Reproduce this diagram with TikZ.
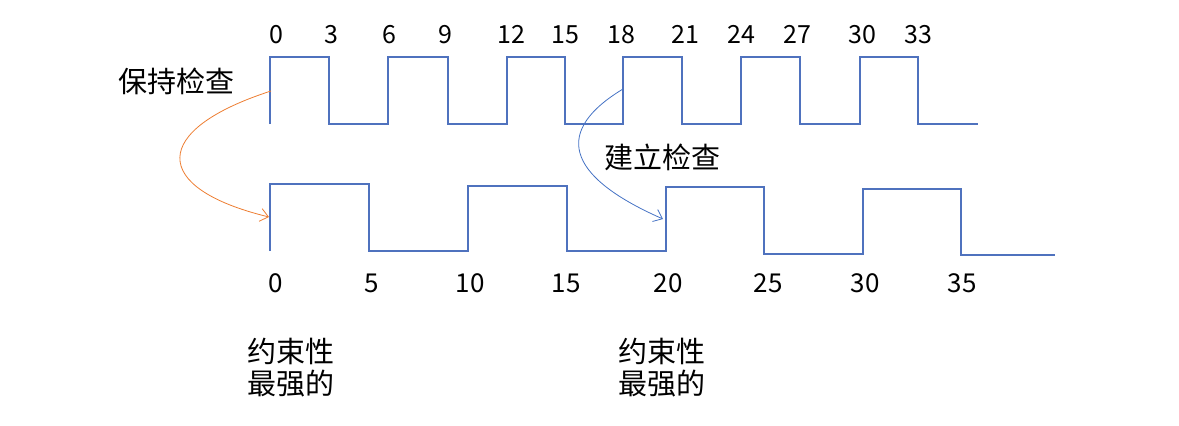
\documentclass[tikz,border=0pt]{standalone}
\usepackage{fontspec}
\setmainfont{Noto Sans CJK SC}
\usetikzlibrary{arrows.meta}
\definecolor{waveblue}{RGB}{79,114,190}
\definecolor{linkblue}{RGB}{68,114,196}
\definecolor{linkorange}{RGB}{237,125,49}

\begin{document}
\begin{tikzpicture}[x=1pt,y=-1pt,>={Straight Barb[length=8pt,width=13pt]},
  every node/.style={inner sep=0pt,outer sep=0pt},
  wave/.style={draw=waveblue,line width=1.1pt},
  toplabel/.style={font=\fontsize{25}{25}\selectfont,anchor=base},
  botlabel/.style={font=\fontsize{26}{26}\selectfont,anchor=base},
  cjklabel/.style={font=\fontsize{29}{32}\selectfont,align=left}]
  \useasboundingbox (0,0) rectangle (1179,426);

  % hold check clock
  \draw[wave] (270,124) -- (270,57) -- (329,57) -- (329,124) -- (388,124) -- (388,57)
    -- (448,57) -- (448,124) -- (507,124) -- (507,57) -- (565,57) -- (565,124)
    -- (623,124) -- (623,57) -- (682,57) -- (682,124) -- (741,124) -- (741,57)
    -- (800,57) -- (800,124) -- (860,124) -- (860,57) -- (918,57) -- (918,124) -- (978,124);
  \foreach \t/\x in {0/276,3/331,6/389,9/445,12/511,15/565,18/621,21/685,24/741,27/797,30/862,33/918}
    \node[toplabel] (t\t) at (\x,43) {\t};

  % launch clock
  \draw[wave] (270,251) -- (270,184) -- (369,184) -- (369,251) -- (468,251) -- (468,186)
    -- (567,186) -- (567,251) -- (666,251) -- (666,187) -- (764,187) -- (764,254)
    -- (863,254) -- (863,189) -- (961,189) -- (961,255) -- (1055,255);
  \foreach \t/\x in {0/276,5/372,10/470,15/566,20/668,25/768,30/865,35/962}
    \node[botlabel] (b\t) at (\x,292) {\t};

  \node[cjklabel] (hold) at (176,81) {保持检查};
  \node[cjklabel] (setup) at (662,157) {建立检查};
  \node[cjklabel,anchor=north west] (strongA) at (247,338) {约束性\\最强的};
  \node[cjklabel,anchor=north west] (strongB) at (618,338) {约束性\\最强的};

  \coordinate (holdsrc) at (271,91);
  \coordinate (holddst) at (269,217);
  \coordinate (setupsrc) at (623,89);
  \coordinate (setupdst) at (663,219);
  \draw[->,linkorange,line width=0.8pt] (holdsrc) .. controls (150,130) and (150,188) .. (holddst);
  \draw[->,linkblue,line width=0.8pt] (setupsrc) .. controls (555,130) and (563,175) .. (setupdst);
\end{tikzpicture}
\end{document}
